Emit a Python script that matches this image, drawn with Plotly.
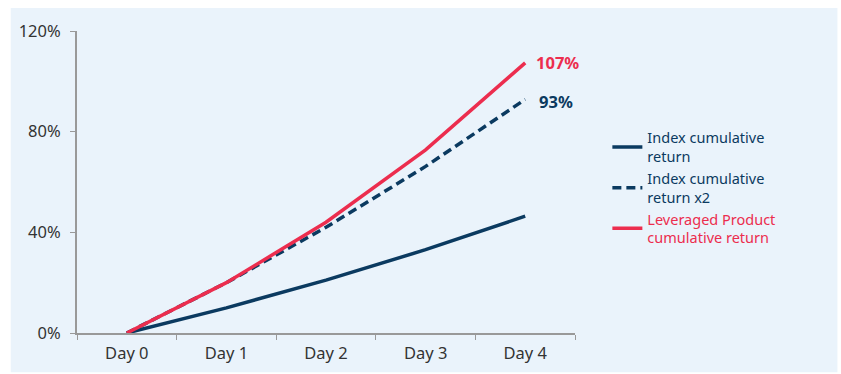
import plotly.graph_objects as go

# Daily returns: index +10% per day, leveraged product 2x daily
days = ["Day 0", "Day 1", "Day 2", "Day 3", "Day 4"]
index_cum = [0, 10, 21, 33.1, 46.41]
index_x2 = [0, 20, 42, 66.2, 92.82]
leveraged_cum = [0, 20, 44, 72.8, 107.36]
y_ticks = [0, 40, 80, 120]
y_tick_text = ["0%", "40%", "80%", "120%"]

NAVY = "#0b3a60"
RED = "#ec2d4e"
PANEL = "#eaf3fb"
FONT = "Noto Sans"

fig = go.Figure()
fig.add_trace(go.Scatter(
    x=days, y=index_cum, mode="lines",
    line=dict(color=NAVY, width=3.5),
    name=f"<span style='color:{NAVY}'>Index cumulative<br>return</span>",
))
fig.add_trace(go.Scatter(
    x=days, y=index_x2, mode="lines",
    line=dict(color=NAVY, width=3.5, dash="9px,5px"),
    name=f"<span style='color:{NAVY}'>Index cumulative<br>return x2</span>",
))
fig.add_trace(go.Scatter(
    x=days, y=leveraged_cum, mode="lines",
    line=dict(color=RED, width=3.5),
    name=f"<span style='color:{RED}'>Leveraged Product<br>cumulative return</span>",
))

# End-of-period value labels
fig.add_annotation(x=days[-1], y=leveraged_cum[-1], xref="x", yref="y",
                   text=f"<b>{leveraged_cum[-1]:.0f}%</b>", showarrow=False,
                   xanchor="left", xshift=9, yshift=0,
                   font=dict(color=RED, size=16.5, family=FONT))
fig.add_annotation(x=days[-1], y=index_x2[-1], xref="x", yref="y",
                   text=f"<b>{index_x2[-1]:.0f}%</b>", showarrow=False,
                   xanchor="left", xshift=12, yshift=-2,
                   font=dict(color=NAVY, size=16.5, family=FONT))

# Light blue panel behind the chart
fig.add_shape(type="rect", xref="paper", yref="paper",
              x0=-0.133, x1=1.527, y0=-0.13, y1=1.076,
              fillcolor=PANEL, line_width=0, layer="below")

fig.update_layout(
    width=841, height=374,
    margin=dict(l=77, r=266, t=31, b=41),
    paper_bgcolor="white",
    plot_bgcolor="rgba(0,0,0,0)",
    font=dict(family=FONT, size=16, color="#333333"),
    showlegend=True,
    legend=dict(x=1.065, y=0.70, xanchor="left", yanchor="top",
                bgcolor="rgba(0,0,0,0)", font=dict(size=14.5, family=FONT),
                itemwidth=30, tracegroupgap=0),
)
fig.update_xaxes(
    type="category", range=[-0.5, 4.5], tickson="boundaries", automargin=False,
    ticks="outside", ticklen=5, ticklabelstandoff=4,
    tickcolor="#999999", showline=True, linecolor="#999999", linewidth=2,
    showgrid=False, zeroline=False, tickfont=dict(color="#333333", size=16.5),
)
fig.update_yaxes(
    range=[0, 120], tickvals=y_ticks, ticktext=y_tick_text, automargin=False,
    ticks="outside", ticklen=5, ticklabelstandoff=6, tickcolor="#999999",
    showline=True, linecolor="#999999", linewidth=2,
    showgrid=False, zeroline=False, tickfont=dict(color="#333333", size=16.5),
)

fig.write_html("out.html")
